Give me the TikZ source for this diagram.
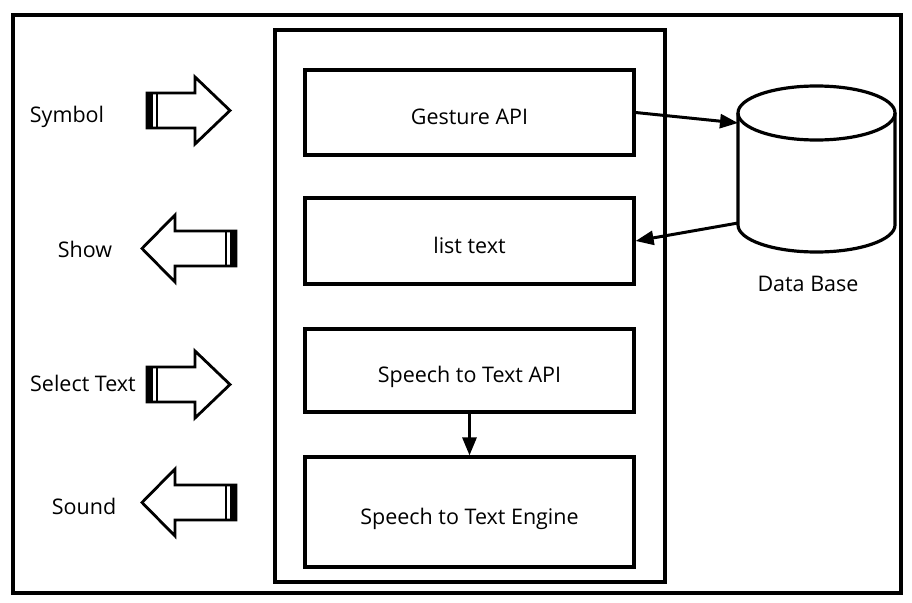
\documentclass[tikz,border=0pt]{standalone}
\usepackage{fontspec}
\setmainfont{Open Sans}
\usetikzlibrary{positioning,arrows.meta}

\tikzset{
  block/.style = {draw, line width = 3.2pt, minimum width = 329pt, inner sep = 0pt, text height = 24pt, text depth = 0pt},
  link/.style = {line width = 3pt, -{Triangle[length = 18pt, width = 14pt]}},
  fat/.style = {draw, line width = 2.8pt, line join = miter, fill = white}
}

\begin{document}
\begin{tikzpicture}[x = 1pt, y = -1pt, font = \fontsize{21.5}{26}\selectfont]
  \useasboundingbox (0,0) rectangle (912,602);
  \draw [line width = 3.2pt] (13,15) rectangle (901,593);
  \draw [line width = 3.2pt] (275,30) rectangle (665,582);
  % blocks
  \node (gesture) [block, minimum height = 85pt] at (469.5,112.5) {Gesture API};
  \node (list) [block, minimum height = 86pt] at (469.5,241) {list text};
  \node (sttapi) [block, minimum height = 83pt] at (469.5,370.5) {Speech to Text API};
  \node (engine) [block, minimum height = 110pt] at (469.5,512) {Speech to Text Engine};
  \draw [link] (sttapi) -- (engine);
  % data base
  \draw [line width = 3.2pt] (738,113) -- (738,225) arc [start angle = 180, end angle = 360, x radius = 78.5pt, y radius = 27pt] -- (895,113);
  \draw [line width = 3.2pt] (816.5,113) ellipse [x radius = 78.5pt, y radius = 27pt];
  \node (dblabel) at (808,284) {Data Base};
  \coordinate (dbin) at (738,123);
  \coordinate (dbout) at (738,223);
  \draw [link] (gesture.east) -- (dbin);
  \draw [link] (dbout) -- (list.east);
  % fat arrows
  \draw [fat] (147,93)--++(48,0)--++(0,-16)--++(35,33.5)--++(-35,33.5)--++(0,-16)--++(-48,0)--cycle;
  \fill (147,93) rectangle (153,128);
  \draw [line width = 1.6pt] (157,93)--(157,128);
  \draw [fat] (147,367)--++(48,0)--++(0,-16)--++(35,33.5)--++(-35,33.5)--++(0,-16)--++(-48,0)--cycle;
  \fill (147,367) rectangle (153,402);
  \draw [line width = 1.6pt] (157,367)--(157,402);
  \draw [fat] (236,231)--++(-61,0)--++(0,-16)--++(-33,33.5)--++(33,33.5)--++(0,-16)--++(61,0)--cycle;
  \fill (230,231) rectangle (236,266);
  \draw [line width = 1.6pt] (226,231)--(226,266);
  \draw [fat] (236,485)--++(-61,0)--++(0,-16)--++(-33,33.5)--++(33,33.5)--++(0,-16)--++(61,0)--cycle;
  \fill (230,485) rectangle (236,520);
  \draw [line width = 1.6pt] (226,485)--(226,520);
  % labels
  \node (symbol) at (67,117) {Symbol};
  \node (show) at (85,249) {Show};
  \node (select) at (83,383) {Select Text};
  \node (sound) at (84,506) {Sound};
\end{tikzpicture}
\end{document}
